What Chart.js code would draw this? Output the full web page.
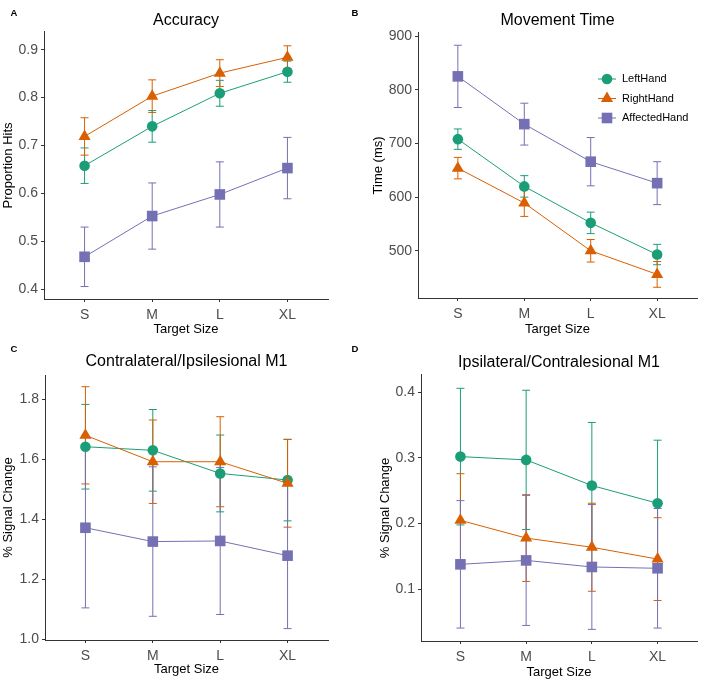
<!DOCTYPE html>
<html>
<head>
<meta charset="utf-8">
<script src="https://cdn.jsdelivr.net/npm/chart.js@4.4.1/dist/chart.umd.min.js"></script>
<style>
  body { margin: 0; background: #fff; font-family: "Liberation Sans", Arial, sans-serif; }
  #page { position: relative; width: 708px; height: 683px; }
  .panel { position: absolute; }
  .tag { position: absolute; font-weight: bold; font-size: 9.5px; color: #000; transform: translate(-50%, -50%); }
</style>
</head>
<body>
<div id="page">
  <div class="panel" style="left:0;top:0"><canvas id="chartA" width="354" height="340"></canvas></div>
  <div class="panel" style="left:354px;top:0"><canvas id="chartB" width="354" height="340"></canvas></div>
  <div class="panel" style="left:0;top:340px"><canvas id="chartC" width="354" height="343"></canvas></div>
  <div class="panel" style="left:354px;top:340px"><canvas id="chartD" width="354" height="343"></canvas></div>
  <div class="tag" style="left:14px;top:12px">A</div>
  <div class="tag" style="left:355px;top:12px">B</div>
  <div class="tag" style="left:14px;top:348px">C</div>
  <div class="tag" style="left:355px;top:348px">D</div>
</div>
<script>
const sizes = ['S', 'M', 'L', 'XL'];
const groups = ['LeftHand', 'RightHand', 'AffectedHand'];

// A: accuracy (proportion hits), mean and error
const accLeft = [0.658, 0.740, 0.809, 0.854];
const accLeftErr = [0.037, 0.033, 0.027, 0.022];
const accRight = [0.719, 0.803, 0.851, 0.884];
const accRightErr = [0.039, 0.034, 0.028, 0.024];
const accAffected = [0.468, 0.553, 0.598, 0.653];
const accAffectedErr = [0.062, 0.069, 0.068, 0.064];
const accTicks = [0.4, 0.5, 0.6, 0.7, 0.8, 0.9];

// B: movement time (ms)
const mtLeft = [708, 620, 552, 493];
const mtLeftErr = [19, 20, 20, 19];
const mtRight = [654, 589, 500, 456];
const mtRightErr = [20, 25, 21, 24];
const mtAffected = [825, 736, 666, 626];
const mtAffectedErr = [58, 39, 45, 40];
const mtTicks = [500, 600, 700, 800, 900];

// C: contralateral / ipsilesional M1 (% signal change)
const contraLeft = [1.642, 1.630, 1.553, 1.531];
const contraLeftErr = [0.141, 0.136, 0.128, 0.136];
const contraRight = [1.680, 1.592, 1.592, 1.520];
const contraRightErr = [0.162, 0.139, 0.150, 0.146];
const contraAffected = [1.372, 1.326, 1.328, 1.279];
const contraAffectedErr = [0.267, 0.249, 0.245, 0.243];
const contraTicks = [1.0, 1.2, 1.4, 1.6, 1.8];

// D: ipsilateral / contralesional M1 (% signal change)
const ipsiLeft = [0.302, 0.297, 0.258, 0.231];
const ipsiLeftErr = [0.104, 0.106, 0.096, 0.096];
const ipsiRight = [0.205, 0.178, 0.164, 0.146];
const ipsiRightErr = [0.071, 0.066, 0.067, 0.063];
const ipsiAffected = [0.138, 0.144, 0.134, 0.132];
const ipsiAffectedErr = [0.097, 0.099, 0.095, 0.091];
const ipsiTicks = [0.1, 0.2, 0.3, 0.4];

const colors = ['#1B9E77', '#D95F02', '#7570B3'];
const shapes = ['circle', 'triangle', 'rect'];
const radii = [5.3, 7, 7.5];
const FONT = '"Liberation Sans", Arial, sans-serif';

// vertical error bars with caps, drawn under lines and points
const errorBars = {
  id: 'errorBars',
  beforeDatasetsDraw(chart) {
    const { ctx, scales: { x, y } } = chart;
    ctx.save();
    chart.data.datasets.forEach(ds => {
      ctx.strokeStyle = ds.borderColor;
      ctx.lineWidth = 1;
      ds.data.forEach((pt, i) => {
        const px = x.getPixelForValue(pt.x);
        const top = y.getPixelForValue(pt.y + ds.errors[i]);
        const bot = y.getPixelForValue(pt.y - ds.errors[i]);
        ctx.beginPath();
        ctx.moveTo(px, top); ctx.lineTo(px, bot);
        ctx.moveTo(px - 4, top); ctx.lineTo(px + 4, top);
        ctx.moveTo(px - 4, bot); ctx.lineTo(px + 4, bot);
        ctx.stroke();
      });
    });
    ctx.restore();
  }
};

// legend inside panel B
const handLegend = {
  id: 'handLegend',
  afterDraw(chart, args, opts) {
    if (!opts.show) return;
    const ctx = chart.ctx;
    ctx.save();
    groups.forEach((g, i) => {
      const y = opts.y + i * 19.5;
      ctx.strokeStyle = colors[i];
      ctx.lineWidth = 1;
      ctx.beginPath();
      ctx.moveTo(opts.x - 9, y); ctx.lineTo(opts.x + 9, y);
      ctx.stroke();
      ctx.fillStyle = colors[i];
      Chart.helpers.drawPoint(ctx, { pointStyle: shapes[i], radius: radii[i], borderWidth: 0, rotation: 0 }, opts.x, y);
      ctx.fillStyle = '#000';
      ctx.font = '11px ' + FONT;
      ctx.textAlign = 'left';
      ctx.textBaseline = 'middle';
      ctx.fillText(g, opts.x + 15, y);
    });
    ctx.restore();
  }
};

function makePanel(id, p) {
  const datasets = p.means.map((m, k) => ({
    label: groups[k],
    data: m.map((v, i) => ({ x: i + 1, y: v })),
    errors: p.errs[k],
    borderColor: colors[k],
    backgroundColor: colors[k],
    borderWidth: 1,
    pointStyle: shapes[k],
    pointRadius: radii[k],
    pointBorderWidth: 0,
    pointBackgroundColor: colors[k],
    order: 3 - k
  }));
  return new Chart(document.getElementById(id), {
    type: 'line',
    data: { datasets },
    options: {
      responsive: false,
      animation: false,
      layout: { padding: { left: 0, right: p.w - p.right, top: 0, bottom: 0 } },
      plugins: {
        legend: { display: false },
        tooltip: { enabled: false },
        title: {
          display: true, text: p.title, fullSize: false, color: '#000',
          font: { family: FONT, size: 16, weight: 'normal' },
          padding: p.titlePad
        },
        handLegend: p.legend || { show: false }
      },
      scales: {
        x: {
          type: 'linear', min: 0.4, max: 4.6,
          afterBuildTicks: s => { s.ticks = sizes.map((_, i) => ({ value: i + 1 })); },
          afterFit: s => { s.height = p.h - p.bottom; },
          ticks: { callback: v => sizes[v - 1], color: '#4D4D4D', font: { family: FONT, size: 14 }, padding: 5, maxRotation: 0, autoSkip: false },
          grid: { drawOnChartArea: false, tickLength: 3, color: '#333' },
          border: { color: '#333', width: 1 },
          title: { display: true, text: 'Target Size', color: '#000', font: { family: FONT, size: 13 }, padding: { top: 0, bottom: p.xTitlePad } }
        },
        y: {
          min: p.yMin, max: p.yMax,
          afterBuildTicks: s => { s.ticks = p.yTicks.map(v => ({ value: v })); },
          afterFit: s => { s.width = p.left; },
          ticks: { callback: v => v.toFixed(p.digits), color: '#4D4D4D', font: { family: FONT, size: 14 }, padding: 3 },
          grid: { drawOnChartArea: false, tickLength: 3, color: '#333' },
          border: { color: '#333', width: 1 },
          title: { display: true, text: p.yTitle, color: '#000', font: { family: FONT, size: 13 }, padding: { top: p.yTitlePad, bottom: 0 } }
        }
      }
    },
    plugins: [errorBars, handLegend]
  });
}

makePanel('chartA', {
  title: 'Accuracy', yTitle: 'Proportion Hits',
  means: [accLeft, accRight, accAffected], errs: [accLeftErr, accRightErr, accAffectedErr],
  yMin: 0.38, yMax: 0.937, yTicks: accTicks, digits: 1,
  w: 354, h: 340, left: 44, right: 328, bottom: 299,
  titlePad: { top: 10.5, bottom: 2.2 }, yTitlePad: 1, xTitlePad: 2.5
});
makePanel('chartB', {
  title: 'Movement Time', yTitle: 'Time (ms)',
  means: [mtLeft, mtRight, mtAffected], errs: [mtLeftErr, mtRightErr, mtAffectedErr],
  yMin: 412, yMax: 906, yTicks: mtTicks, digits: 0,
  w: 354, h: 340, left: 64, right: 343, bottom: 298,
  titlePad: { top: 10.5, bottom: 3.2 }, yTitlePad: 17, xTitlePad: 2.5,
  legend: { show: true, x: 253, y: 79 }
});
makePanel('chartC', {
  title: 'Contralateral/Ipsilesional M1', yTitle: '% Signal Change',
  means: [contraLeft, contraRight, contraAffected], errs: [contraLeftErr, contraRightErr, contraAffectedErr],
  yMin: 0.998, yMax: 1.881, yTicks: contraTicks, digits: 1,
  w: 354, h: 343, left: 45, right: 328, bottom: 300,
  titlePad: { top: 11.5, bottom: 4.3 }, yTitlePad: 1, xTitlePad: 5.5
});
makePanel('chartD', {
  title: 'Ipsilateral/Contralesional M1', yTitle: '% Signal Change',
  means: [ipsiLeft, ipsiRight, ipsiAffected], errs: [ipsiLeftErr, ipsiRightErr, ipsiAffectedErr],
  yMin: 0.0213, yMax: 0.4264, yTicks: ipsiTicks, digits: 1,
  w: 354, h: 343, left: 67, right: 343, bottom: 301,
  titlePad: { top: 12.5, bottom: 3.2 }, yTitlePad: 24, xTitlePad: 3
});
</script>
</body>
</html>
